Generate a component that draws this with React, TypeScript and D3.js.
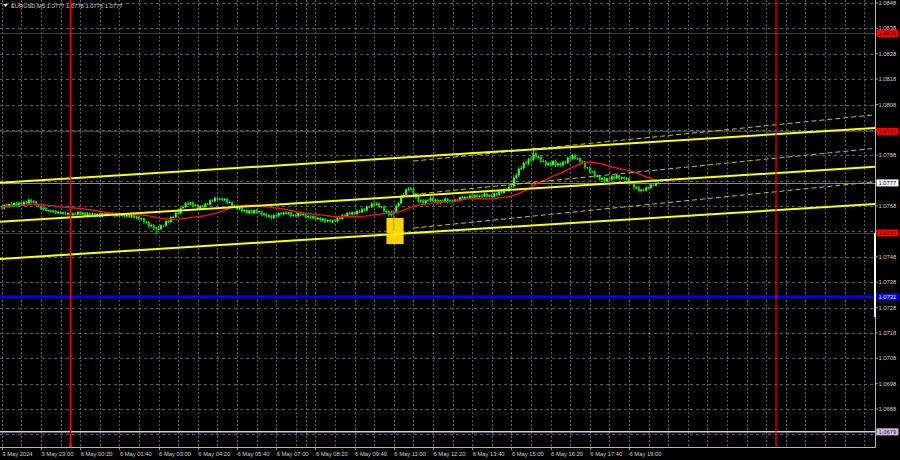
import React from "react";
import * as d3 from "d3";

const TITLE = "EURUSD,M5  1.0777 1.0778 1.0776 1.0777";
const BASE = 1.07;
const FIRST_OPEN = 676;
const CLOSES = [
  670, 684, 676, 688, 680, 692, 679, 693, 682, 696,
  690, 705, 694, 698, 683, 679, 667, 672, 660, 664,
  657, 662, 651, 657, 650, 655, 647, 653, 645, 651,
  646, 657, 648, 654, 642, 652, 646, 651, 640, 649,
  639, 651, 645, 652, 646, 650, 640, 649, 641, 646,
  639, 645, 637, 644, 634, 638, 628, 632, 615, 618,
  600, 605, 591, 595, 589, 604, 602, 621, 617, 636,
  636, 653, 650, 672, 676, 691, 687, 694, 681, 684,
  669, 680, 676, 688, 686, 702, 699, 711, 706, 709,
  703, 708, 693, 696, 679, 681, 667, 672, 659, 664,
  652, 663, 651, 664, 657, 659, 645, 650, 638, 643,
  632, 644, 641, 653, 647, 655, 649, 655, 641, 646,
  640, 652, 645, 650, 636, 641, 634, 639, 628, 634,
  623, 630, 619, 625, 618, 624, 620, 634, 629, 644,
  640, 653, 647, 655, 649, 661, 655, 667, 663, 677,
  675, 690, 685, 690, 676, 678, 659, 660, 645, 656,
  656, 680, 690, 716, 724, 744, 746, 749, 726, 715,
  698, 702, 691, 704, 702, 713, 699, 704, 691, 702,
  697, 709, 696, 702, 697, 705, 701, 715, 709, 716,
  711, 722, 710, 723, 716, 722, 717, 729, 717, 723,
  716, 730, 724, 737, 732, 745, 740, 756, 758, 792,
  801, 826, 829, 850, 847, 864, 861, 888, 873, 874,
  856, 857, 842, 849, 842, 857, 841, 848, 840, 854,
  850, 870, 866, 880, 867, 869, 855, 853, 832, 832,
  815, 816, 798, 799, 785, 791, 778, 789, 784, 797,
  790, 801, 788, 794, 787, 790, 771, 772, 753, 754,
  739, 745, 741, 754, 751, 764, 760, 771, 771,
];
const HI_WICK = [
  4, 3, 5, 2, 6, 3, 4, 5, 3, 6,
  5, 4, 3, 6, 2, 3, 4, 3, 5, 2,
  3, 4, 2, 5, 3, 4, 3, 2, 4, 3,
  5, 3, 4, 2, 3, 5, 3, 4, 2, 3,
  4, 3, 5, 2, 4, 3, 2, 4, 3, 5,
  3, 4, 2, 3, 5, 3, 4, 3, 2, 4,
  3, 5, 4, 3, 6, 4, 3, 5, 4, 6,
  5, 4, 6, 5, 7, 4, 6, 3, 5, 4,
  3, 5, 4, 6, 4, 5, 3, 6, 4, 3,
  5, 3, 4, 6, 3, 4, 5, 3, 4, 2,
  4, 3, 5, 3, 4, 2, 3, 5, 3, 4,
  3, 4, 5, 3, 4, 3, 5, 2, 4, 3,
  4, 3, 5, 3, 2, 4, 3, 4, 3, 2,
  3, 4, 2, 3, 4, 3, 5, 4, 3, 5,
  4, 3, 5, 4, 3, 5, 4, 6, 5, 4,
  6, 5, 7, 4, 5, 3, 4, 5, 3, 6,
  8, 6, 7, 9, 8, 7, 8, 6, 5, 4,
  5, 4, 6, 3, 5, 4, 3, 5, 4, 3,
  4, 5, 3, 4, 3, 5, 4, 3, 5, 4,
  3, 4, 5, 3, 4, 3, 5, 4, 3, 4,
  5, 4, 3, 5, 4, 6, 5, 7, 8, 9,
  8, 7, 9, 6, 8, 7, 9, 24, 8, 6,
  5, 7, 4, 6, 5, 4, 6, 5, 4, 5,
  6, 5, 7, 6, 4, 5, 3, 4, 5, 3,
  4, 3, 5, 4, 3, 4, 5, 3, 4, 5,
  4, 5, 3, 4, 3, 4, 3, 2, 4, 3,
  4, 3, 5, 4, 3, 5, 4, 3, 4,
];
const LO_WICK = [
  3, 5, 2, 4, 3, 5, 2, 4, 3, 2,
  3, 5, 4, 3, 5, 4, 3, 5, 2, 4,
  3, 5, 4, 3, 2, 4, 3, 5, 3, 4,
  2, 4, 3, 5, 3, 2, 4, 3, 5, 3,
  3, 4, 2, 5, 3, 4, 3, 2, 4, 3,
  4, 3, 5, 4, 3, 5, 4, 6, 5, 4,
  6, 5, 7, 24, 5, 4, 6, 5, 4, 3,
  4, 3, 5, 4, 3, 5, 4, 3, 5, 4,
  5, 4, 3, 4, 3, 5, 3, 4, 3, 5,
  3, 4, 5, 3, 4, 5, 3, 4, 5, 3,
  4, 5, 3, 4, 5, 6, 4, 5, 3, 4,
  5, 4, 3, 4, 3, 5, 4, 3, 5, 4,
  3, 4, 5, 6, 4, 5, 4, 6, 5, 4,
  5, 4, 6, 5, 4, 5, 3, 4, 3, 4,
  3, 4, 3, 5, 3, 4, 3, 4, 3, 4,
  3, 4, 5, 4, 5, 6, 5, 7, 6, 8,
  74, 5, 4, 3, 4, 5, 4, 6, 5, 7,
  6, 5, 7, 4, 5, 6, 4, 5, 6, 4,
  5, 4, 6, 5, 4, 3, 5, 4, 3, 5,
  4, 3, 5, 4, 3, 4, 5, 3, 4, 3,
  4, 3, 5, 4, 3, 4, 3, 5, 4, 6,
  5, 6, 4, 7, 5, 6, 4, 5, 8, 7,
  6, 5, 7, 4, 6, 5, 7, 6, 5, 4,
  5, 4, 6, 5, 4, 6, 5, 7, 6, 5,
  6, 5, 7, 6, 5, 7, 6, 5, 4, 6,
  5, 4, 6, 5, 4, 6, 7, 6, 8, 7,
  6, 7, 5, 4, 5, 4, 3, 4, 3,
];
const MA_PERIOD = 30;

const PRICE_TICKS = [
  1.0848, 1.0838, 1.0828, 1.0818, 1.0808, 1.0798, 1.0788, 1.0778, 1.0768,
  1.0758, 1.0748, 1.0738, 1.0728, 1.0718, 1.0708, 1.0698, 1.0688, 1.0678,
];
const TIME_LABELS = [
  "3 May 2024", "3 May 23:00", "6 May 00:20", "6 May 01:40", "6 May 03:00",
  "6 May 04:20", "6 May 05:40", "6 May 07:00", "6 May 08:20", "6 May 09:40",
  "6 May 11:00", "6 May 12:20", "6 May 13:40", "6 May 15:00", "6 May 16:20",
  "6 May 17:40", "6 May 19:00",
];
const TIME_LABEL_STEP = 16;
const GRID_BAR_STEP = 8;
const BAR_DOMAIN = [0, 356];

const LEVEL_PRICES = [1.0836, 1.07974, 1.07574, 1.07322, 1.0679];
const LEVEL_TEXT = ["1.0836", "1.0797", "1.0757", "1.0731", "1.0679"];
const DAY_SEP_BARS = [28, 316];
const SESSION_BARS = [124, 208];
const RECT_BARS = [157, 164];
const RECT_PRICES = [1.0753, 1.07633];
const AXIS_STRIP = [1.07574, 1.07243];
// trend lines: [bar0, price0, bar1, price1]
const SOLID_LINES = [
  [0, 1.07772, 356, 1.07987],
  [0, 1.07618, 356, 1.07834],
  [0, 1.07472, 356, 1.07688],
];
const DASHED_LINES = [
  [168, 1.07857, 356, 1.08039],
  [168, 1.07726, 356, 1.07907],
  [168, 1.07593, 356, 1.07775],
];

const LEVEL_STYLE = [
  { stroke: "#e00000", w: 1, fill: "#ff0000", text: "#300000" },
  { stroke: "#e00000", w: 1, fill: "#ff0000", text: "#300000" },
  { stroke: "#e00000", w: 1, fill: "#ff0000", text: "#300000" },
  { stroke: "#0000ff", w: 3, fill: "#0000ff", text: "#ffffff" },
  { stroke: "#e6c0e6", w: 1.5, fill: "#e2b6e2", text: "#222222" },
];

export default function App() {
  const W = 900;
  const H = 460;
  const plotR = 875;
  const plotB = 447;
  const x = d3.scaleLinear().domain(BAR_DOMAIN).range([1.8, 1.8 + 356 * 2.45]);
  const y = d3.scaleLinear().domain([1.0848, 1.0688]).range([3, 409]);

  const candles = CLOSES.map((c, i) => {
    const o = i === 0 ? FIRST_OPEN : CLOSES[i - 1];
    const h = Math.max(o, c) + HI_WICK[i];
    const l = Math.min(o, c) - LO_WICK[i];
    return { i, o: BASE + o / 1e5, c: BASE + c / 1e5, h: BASE + h / 1e5, l: BASE + l / 1e5 };
  });
  const ma = candles.map((d, i) => {
    const s = Math.max(0, i - MA_PERIOD + 1);
    return { i, v: d3.mean(candles.slice(s, i + 1), (e) => e.c) as number };
  });
  const maPath = d3
    .line<{ i: number; v: number }>()
    .x((d) => x(d.i))
    .y((d) => y(d.v))
    .curve(d3.curveMonotoneX)(ma) as string;

  const gridBars = d3.range(0, BAR_DOMAIN[1] + 1, GRID_BAR_STEP);
  const lastPrice = candles[candles.length - 1].c;
  const font = "'Liberation Sans', Arial, sans-serif";
  const axisText = "#d0d0d0";
  const fs = 5.8;
  const crisp = (v: number) => Math.round(v) + 0.5;

  const labelYs = [...LEVEL_PRICES, lastPrice].map((p) => y(p));
  const visibleTicks = PRICE_TICKS.filter((p) => labelYs.every((ly) => Math.abs(ly - y(p)) >= 5));

  const tl = (ln: number[]) => {
    const [b0, p0, b1, p1] = ln;
    const f = (b: number) => p0 + ((p1 - p0) * (b - b0)) / (b1 - b0);
    const bStart = b0 === 0 ? x.invert(0) : b0;
    const bEnd = x.invert(plotR);
    return { x1: x(bStart), y1: y(f(bStart)), x2: x(bEnd), y2: y(f(bEnd)) };
  };

  return (
    <svg
      width={W}
      height={H}
      style={{ position: "absolute", left: 0, top: 0, background: "#000" }}
      fontFamily={font}
    >
      <rect x={0} y={0} width={W} height={H} fill="#000" />
      <defs>
        <clipPath id="plot">
          <rect x={0} y={0} width={plotR} height={plotB} />
        </clipPath>
      </defs>
      <g clipPath="url(#plot)">
        {PRICE_TICKS.map((p) => (
          <line key={"hg" + p} x1={0} x2={plotR} y1={crisp(y(p))} y2={crisp(y(p))}
            stroke="#6c7580" strokeWidth={0.8} strokeDasharray="3 3" />
        ))}
        {gridBars.map((b) => (
          <line key={"vg" + b} x1={crisp(x(b))} x2={crisp(x(b))} y1={0} y2={plotB}
            stroke="#6c7580" strokeWidth={0.8} strokeDasharray="2 2" />
        ))}
        {SESSION_BARS.map((b) => (
          <line key={"sv" + b} x1={crisp(x(b))} x2={crisp(x(b))} y1={0} y2={plotB} stroke="#3a9a00" strokeWidth={0.9} strokeDasharray="2 2" />
        ))}
        <rect x={x(RECT_BARS[0])} width={x(RECT_BARS[1]) - x(RECT_BARS[0])}
          y={y(RECT_PRICES[1])} height={y(RECT_PRICES[0]) - y(RECT_PRICES[1])} fill="#ffd200" />
        {LEVEL_PRICES.map((p, k) => (
          <line key={"lv" + k} x1={0} x2={plotR}
            y1={LEVEL_STYLE[k].w === 1 ? crisp(y(p)) : y(p)} y2={LEVEL_STYLE[k].w === 1 ? crisp(y(p)) : y(p)}
            stroke={LEVEL_STYLE[k].stroke} strokeWidth={LEVEL_STYLE[k].w} />
        ))}
        <line x1={0} x2={plotR} y1={crisp(y(lastPrice))} y2={crisp(y(lastPrice))} stroke="#8c8c8c" strokeWidth={1} />
        {candles.map((d) => {
          const cx = x(d.i);
          const bull = d.c >= d.o;
          const top = y(Math.max(d.o, d.c));
          const bot = y(Math.min(d.o, d.c));
          return (
            <g key={"c" + d.i}>
              <line x1={cx} x2={cx} y1={y(d.h)} y2={y(d.l)} stroke="#00f000" strokeWidth={1} />
              <rect x={cx - 1} width={2} y={top} height={Math.max(0.8, bot - top)} fill={bull ? "#40ff40" : "#10d010"} />
            </g>
          );
        })}
        <path d={maPath} fill="none" stroke="#f01010" strokeWidth={1.4} />
        {DASHED_LINES.map((ln, k) => (
          <line key={"dl" + k} {...tl(ln)} stroke="#c8c800" strokeWidth={1} strokeDasharray="5 3" />
        ))}
        {SOLID_LINES.map((ln, k) => (
          <line key={"sl" + k} {...tl(ln)} stroke="#ffff00" strokeWidth={2} />
        ))}
        {DAY_SEP_BARS.map((b) => (
          <line key={"dv" + b} x1={x(b)} x2={x(b)} y1={0} y2={plotB} stroke="#ff0000" strokeWidth={1.2} />
        ))}
      </g>
      <rect x={x(DAY_SEP_BARS[0]) - 1.5} y={plotB - 3} width={3} height={3} fill="#ff0000" />

      <line x1={0} x2={plotR + 0.5} y1={plotB + 0.5} y2={plotB + 0.5} stroke="#b8b8b8" strokeWidth={1} />
      <line x1={plotR + 0.5} x2={plotR + 0.5} y1={0} y2={plotB + 0.5} stroke="#b8b8b8" strokeWidth={1} />
      <rect x={plotR - 1} y={y(AXIS_STRIP[0])} width={2} height={y(AXIS_STRIP[1]) - y(AXIS_STRIP[0])} fill="#ffffff" />

      <path d="M3,4 L8,4 L5.5,7 Z" fill="#e0e0e0" />
      <text x={11} y={7.8} fontSize={fs} fill={axisText}>{TITLE}</text>

      {PRICE_TICKS.map((p) => (
        <line key={"ptk" + p} x1={plotR} x2={plotR + 3} y1={y(p)} y2={y(p)} stroke="#b8b8b8" strokeWidth={0.8} />
      ))}
      {visibleTicks.map((p) => (
        <text key={"pt" + p} x={878.5} y={y(p)} dy="0.35em" fontSize={fs} fill={axisText}>{p.toFixed(4)}</text>
      ))}
      {LEVEL_PRICES.map((p, k) => (
        <g key={"ll" + k}>
          <rect x={876.5} y={y(p) - 3.5} width={22} height={7} fill={LEVEL_STYLE[k].fill} />
          <text x={878.5} y={y(p)} dy="0.35em" fontSize={fs} fill={LEVEL_STYLE[k].text}>{LEVEL_TEXT[k]}</text>
        </g>
      ))}
      <g>
        <rect x={876.5} y={y(lastPrice) - 3.5} width={22} height={7} fill="#ffffff" />
        <text x={878.5} y={y(lastPrice)} dy="0.35em" fontSize={fs} fill="#000">{lastPrice.toFixed(4)}</text>
      </g>

      {TIME_LABELS.map((t, k) => {
        const bx = x(k * TIME_LABEL_STEP);
        return (
          <g key={"tl" + k}>
            <line x1={crisp(bx)} x2={crisp(bx)} y1={plotB} y2={plotB + 3} stroke="#b8b8b8" strokeWidth={0.8} />
            <text x={bx + 0.5} y={455.5} fontSize={fs} fill={axisText}>{t}</text>
          </g>
        );
      })}
    </svg>
  );
}
